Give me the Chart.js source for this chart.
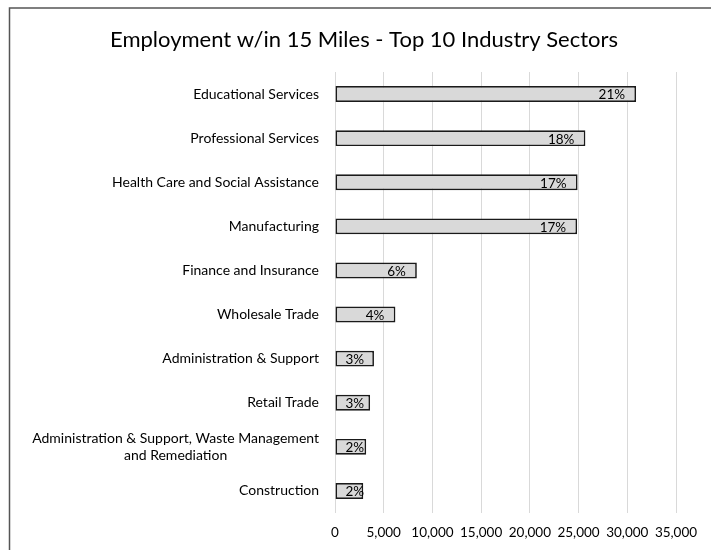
<!DOCTYPE html>
<html>
<head>
<meta charset="utf-8">
<title>Employment w/in 15 Miles</title>
<script src="https://cdn.jsdelivr.net/npm/chart.js@4.4.1/dist/chart.umd.min.js"></script>
<style>
    html, body { margin: 0; padding: 0; background: #fff; }
    canvas { display: block; }
</style>
</head>
<body>
<canvas id="emploiChart" width="711" height="550"></canvas>
<script>
// Secteurs, effectifs et parts
const categories = [
    'Educational Services',
    'Professional Services',
    'Health Care and Social Assistance',
    'Manufacturing',
    'Finance and Insurance',
    'Wholesale Trade',
    'Administration & Support',
    'Retail Trade',
    ['Administration & Support, Waste Management', 'and Remediation'],
    'Construction'
];
const employment = [30900, 25700, 24900, 24850, 8400, 6200, 4000, 3600, 3200, 2900];
const shares = ['21%', '18%', '17%', '17%', '6%', '4%', '3%', '3%', '2%', '2%'];
const xTickStep = 5000;
const xMax = 35000;

const chartTitle = 'Employment w/in 15 Miles - Top 10 Industry Sectors';
const FONT = 'Lato, "Open Sans", sans-serif';

// Cadre + titre
const cadrePlugin = {
    id: 'cadre',
    afterDraw(chart) {
        const ctx = chart.ctx;
        ctx.save();
        ctx.strokeStyle = '#555';
        ctx.lineWidth = 1.5;
        ctx.beginPath();
        ctx.moveTo(9.5, chart.height + 2);
        ctx.lineTo(9.5, 8);
        ctx.lineTo(chart.width + 2, 8);
        ctx.stroke();

        ctx.fillStyle = '#000';
        ctx.font = '22px ' + FONT;
        ctx.textAlign = 'center';
        ctx.textBaseline = 'middle';
        ctx.fillText(chartTitle, 364, 40);
        ctx.restore();
    }
};

// Libellés des secteurs (lignes multiples centrées entre elles)
const libellesPlugin = {
    id: 'libelles',
    afterDraw(chart) {
        const ctx = chart.ctx;
        const yScale = chart.scales.y;
        const droite = 319;
        const interligne = 17;
        ctx.save();
        ctx.fillStyle = '#000';
        ctx.font = '14px ' + FONT;
        ctx.textBaseline = 'middle';
        categories.forEach(function(label, i) {
            const y = yScale.getPixelForTick(i);
            if (Array.isArray(label)) {
                const largeur = Math.max.apply(null, label.map(l => ctx.measureText(l).width));
                const cx = droite - largeur / 2;
                const y0 = y - (label.length - 1) * interligne / 2;
                ctx.textAlign = 'center';
                label.forEach(function(ligne, j) {
                    ctx.fillText(ligne, cx, y0 + j * interligne);
                });
            } else {
                ctx.textAlign = 'right';
                ctx.fillText(label, droite, y);
            }
        });
        ctx.restore();
    }
};

// Pourcentages à l'intérieur des barres, côté fin
const partsPlugin = {
    id: 'parts',
    afterDatasetsDraw(chart) {
        const ctx = chart.ctx;
        const meta = chart.getDatasetMeta(0);
        ctx.save();
        ctx.fillStyle = '#000';
        ctx.font = '13.5px ' + FONT;
        ctx.textAlign = 'right';
        ctx.textBaseline = 'middle';
        meta.data.forEach(function(bar, i) {
            const texte = shares[i];
            const w = ctx.measureText(texte).width;
            const x = Math.max(bar.x - 11, bar.base + 10 + w);
            ctx.fillText(texte, x, bar.y + 1);
        });
        ctx.restore();
    }
};

const ctx = document.getElementById('emploiChart').getContext('2d');

new Chart(ctx, {
    type: 'bar',
    data: {
        labels: categories,
        datasets: [{
            data: employment,
            backgroundColor: '#d9d9d9',
            borderColor: '#1a1a1a',
            borderWidth: 1.7,
            borderSkipped: false,
            barPercentage: 0.36,
            categoryPercentage: 1
        }]
    },
    options: {
        indexAxis: 'y',
        responsive: false,
        animation: false,
        layout: {
            padding: { top: 72, right: 35, bottom: 0, left: 0 }
        },
        scales: {
            x: {
                min: 0,
                max: xMax,
                ticks: {
                    stepSize: xTickStep,
                    padding: 12,
                    color: '#000',
                    font: { family: FONT, size: 13.5 },
                    callback: v => v.toLocaleString('en-US')
                },
                grid: {
                    color: '#d9d9d9',
                    drawTicks: false
                },
                border: { display: false },
                afterFit: s => { s.height = 37; }
            },
            y: {
                grid: { display: false },
                border: { display: false },
                ticks: { display: false },
                afterFit: s => { s.width = 335; }
            }
        },
        plugins: {
            legend: { display: false },
            title: { display: false },
            tooltip: { enabled: false }
        }
    },
    plugins: [cadrePlugin, libellesPlugin, partsPlugin]
});
</script>
</body>
</html>
